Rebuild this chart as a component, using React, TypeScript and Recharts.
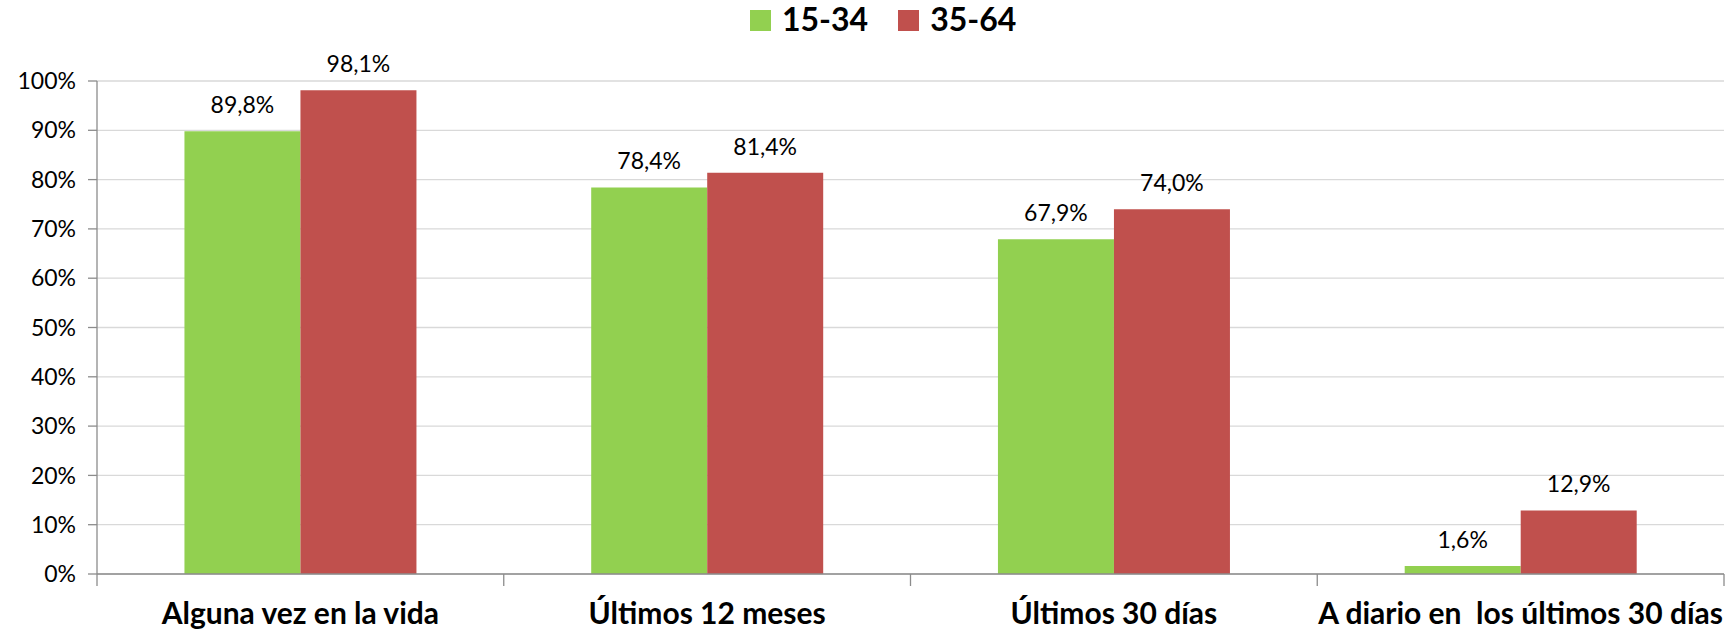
import React from 'react';
import { BarChart, Bar, XAxis, YAxis, CartesianGrid, LabelList } from 'recharts';

const categories = ['Alguna vez en la vida', 'Últimos 12 meses', 'Últimos 30 días', 'A diario en  los últimos 30 días'];
const young = [89.8, 78.4, 67.9, 1.6];
const adult = [98.1, 81.4, 74.0, 12.9];
const yTicks = [0, 10, 20, 30, 40, 50, 60, 70, 80, 90, 100];

const seriesNames = { young: '15-34', adult: '35-64' };
const GREEN = '#92D050';
const RED = '#C0504D';

const WIDTH = 1733;
const HEIGHT = 629;
const Y_AXIS_W = 97;
const MARGIN = { top: 81, right: 9, bottom: 5, left: 0 };
const BAND = (WIDTH - Y_AXIS_W - MARGIN.right - MARGIN.left) / categories.length;

const data = categories.map((name, i) => ({ name, young: young[i], adult: adult[i] }));

const fmt = (v: number) => `${v.toFixed(1).replace('.', ',')}%`;

const CategoryTick = (props: any) => {
  const { x, y, payload, index } = props;
  const half = BAND / 2;
  return (
    <g>
      <line x1={x - half} y1={y} x2={x - half} y2={y + 12} stroke="#8c8c8c" strokeWidth={1.3} />
      {index === categories.length - 1 && (
        <line x1={x + half} y1={y} x2={x + half} y2={y + 12} stroke="#8c8c8c" strokeWidth={1.3} />
      )}
      <text
        x={x}
        y={y + 50}
        textAnchor="middle"
        fill="#000"
        xmlSpace="preserve"
        style={{ whiteSpace: 'pre', fontFamily: 'Lato', fontWeight: 700, fontSize: 30 }}
      >
        {payload.value}
      </text>
    </g>
  );
};

const Swatch = ({ color, label }: { color: string; label: string }) => (
  <div style={{ display: 'flex', alignItems: 'center' }}>
    <div style={{ width: 21, height: 21, background: color, marginTop: 3, marginRight: 11 }} />
    <span>{label}</span>
  </div>
);

export default function App() {
  return (
    <div style={{ position: 'absolute', left: 0, top: 0, width: WIDTH, height: HEIGHT, background: '#fff' }}>
      <div
        style={{
          position: 'absolute',
          left: 750,
          top: 0,
          display: 'flex',
          gap: 30,
          fontFamily: 'Lato',
          fontWeight: 700,
          fontSize: 32,
          lineHeight: '38px',
          color: '#000',
        }}
      >
        <Swatch color={GREEN} label={seriesNames.young} />
        <Swatch color={RED} label={seriesNames.adult} />
      </div>
      <BarChart
        width={WIDTH}
        height={HEIGHT}
        data={data}
        margin={MARGIN}
        barCategoryGap="21.5%"
        barGap={0}
      >
        <CartesianGrid vertical={false} stroke="#d9d9d9" strokeWidth={1.3} />
        <XAxis
          dataKey="name"
          height={50}
          axisLine={{ stroke: '#8c8c8c', strokeWidth: 1.3 }}
          tickLine={false}
          tickSize={0}
          tickMargin={0}
          interval={0}
          tick={<CategoryTick />}
        />
        <YAxis
          width={Y_AXIS_W}
          domain={[0, 100]}
          ticks={yTicks}
          tickFormatter={(v: number) => `${v}%`}
          axisLine={{ stroke: '#8c8c8c', strokeWidth: 1.3 }}
          tickLine={{ stroke: '#8c8c8c', strokeWidth: 1.3 }}
          tickSize={9}
          tickMargin={12}
          tick={{ fill: '#000', fontFamily: 'Lato', fontSize: 23 }}
        />
        <Bar dataKey="young" fill={GREEN} isAnimationActive={false}>
          <LabelList
            dataKey="young"
            position="top"
            offset={18}
            formatter={(v: any) => fmt(Number(v))}
            style={{ fill: '#000', fontFamily: 'Lato', fontSize: 23 }}
          />
        </Bar>
        <Bar dataKey="adult" fill={RED} isAnimationActive={false}>
          <LabelList
            dataKey="adult"
            position="top"
            offset={18}
            formatter={(v: any) => fmt(Number(v))}
            style={{ fill: '#000', fontFamily: 'Lato', fontSize: 23 }}
          />
        </Bar>
      </BarChart>
    </div>
  );
}
